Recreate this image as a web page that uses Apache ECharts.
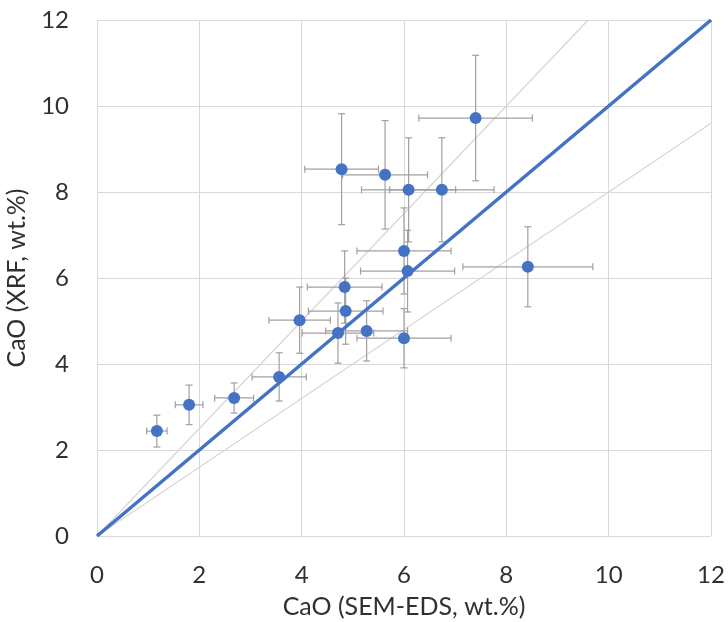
<!DOCTYPE html>
<html>
<head>
<meta charset="utf-8">
<script src="https://cdn.jsdelivr.net/npm/echarts@6/dist/echarts.min.js"></script>
<style>html,body{margin:0;padding:0;background:#fff}#c{width:728px;height:622px}</style>
</head>
<body>
<div id="c"></div>
<script>
var xVals = [1.17, 1.80, 2.68, 3.56, 3.96, 4.71, 5.27, 4.86, 4.84, 6.00, 6.07, 6.00, 7.40, 4.78, 5.63, 6.09, 6.74, 8.42];
var yVals = [2.44, 3.05, 3.21, 3.70, 5.02, 4.72, 4.77, 5.23, 5.79, 6.63, 6.16, 4.60, 9.72, 8.53, 8.40, 8.05, 8.05, 6.26];
var xErr  = [0.20, 0.27, 0.38, 0.53, 0.60, 0.70, 0.80, 0.73, 0.73, 0.92, 0.92, 0.92, 1.11, 0.72, 0.83, 0.92, 1.02, 1.27];
var yErr  = [0.37, 0.46, 0.35, 0.56, 0.77, 0.70, 0.70, 0.77, 0.84, 1.00, 0.95, 0.69, 1.46, 1.29, 1.26, 1.21, 1.21, 0.93];
var xTicks = [0, 2, 4, 6, 8, 10, 12];
var oneToOne = [[0, 0], [12, 12]];
var upperLine = [[0, 0], [9.6, 12]];
var lowerLine = [[0, 0], [12, 9.6]];

var pts = xVals.map(function (x, i) { return [x, yVals[i], xErr[i], yErr[i]]; });
var font = 'Lato, "Open Sans", sans-serif';
var chart = echarts.init(document.getElementById('c'));
chart.setOption({
  animation: false,
  grid: { left: 97, right: 17, top: 20, bottom: 86, outerBoundsMode: 'none', containLabel: false },
  xAxis: {
    type: 'value', min: 0, max: 12, interval: 2,
    name: 'CaO (SEM-EDS, wt.%)', nameLocation: 'middle', nameGap: 58,
    nameTextStyle: { fontFamily: font, fontSize: 25, color: '#303030', lineHeight: 26 },
    axisLine: { show: false }, axisTick: { show: false },
    axisLabel: { fontFamily: font, fontSize: 24, color: '#303030', margin: 27 },
    splitLine: { show: true, lineStyle: { color: '#d9d9d9', width: 1 } }
  },
  yAxis: {
    type: 'value', min: 0, max: 12, interval: 2,
    name: 'CaO (XRF, wt.%)', nameLocation: 'middle', nameGap: 60,
    nameTextStyle: { fontFamily: font, fontSize: 25, color: '#303030', lineHeight: 26 },
    axisLine: { show: false }, axisTick: { show: false },
    axisLabel: { fontFamily: font, fontSize: 24, color: '#303030', margin: 28 },
    splitLine: { show: true, lineStyle: { color: '#d9d9d9', width: 1 } }
  },
  series: [
    { type: 'line', data: upperLine, showSymbol: false, lineStyle: { color: '#d6d6d6', width: 1.2 }, z: 1 },
    { type: 'line', data: lowerLine, showSymbol: false, lineStyle: { color: '#d6d6d6', width: 1.2 }, z: 1 },
    {
      type: 'custom', z: 2,
      data: pts,
      renderItem: function (params, api) {
        var x = api.value(0), y = api.value(1), ex = api.value(2), ey = api.value(3);
        var l = api.coord([x - ex, y]), r = api.coord([x + ex, y]);
        var t = api.coord([x, y + ey]), b = api.coord([x, y - ey]);
        var c = 3.5;
        var st = { stroke: '#a0a0a0', lineWidth: 1.2 };
        return {
          type: 'group',
          children: [
            { type: 'line', shape: { x1: l[0], y1: l[1], x2: r[0], y2: r[1] }, style: st },
            { type: 'line', shape: { x1: l[0], y1: l[1] - c, x2: l[0], y2: l[1] + c }, style: st },
            { type: 'line', shape: { x1: r[0], y1: r[1] - c, x2: r[0], y2: r[1] + c }, style: st },
            { type: 'line', shape: { x1: t[0], y1: t[1], x2: b[0], y2: b[1] }, style: st },
            { type: 'line', shape: { x1: t[0] - c, y1: t[1], x2: t[0] + c, y2: t[1] }, style: st },
            { type: 'line', shape: { x1: b[0] - c, y1: b[1], x2: b[0] + c, y2: b[1] }, style: st }
          ]
        };
      }
    },
    { type: 'line', data: oneToOne, showSymbol: false, lineStyle: { color: '#4472c4', width: 3.5 }, z: 3 },
    { type: 'scatter', data: pts.map(function (p) { return [p[0], p[1]]; }), symbolSize: 12, itemStyle: { color: '#4472c4', opacity: 1 }, z: 4 }
  ]
});
</script>
</body>
</html>
